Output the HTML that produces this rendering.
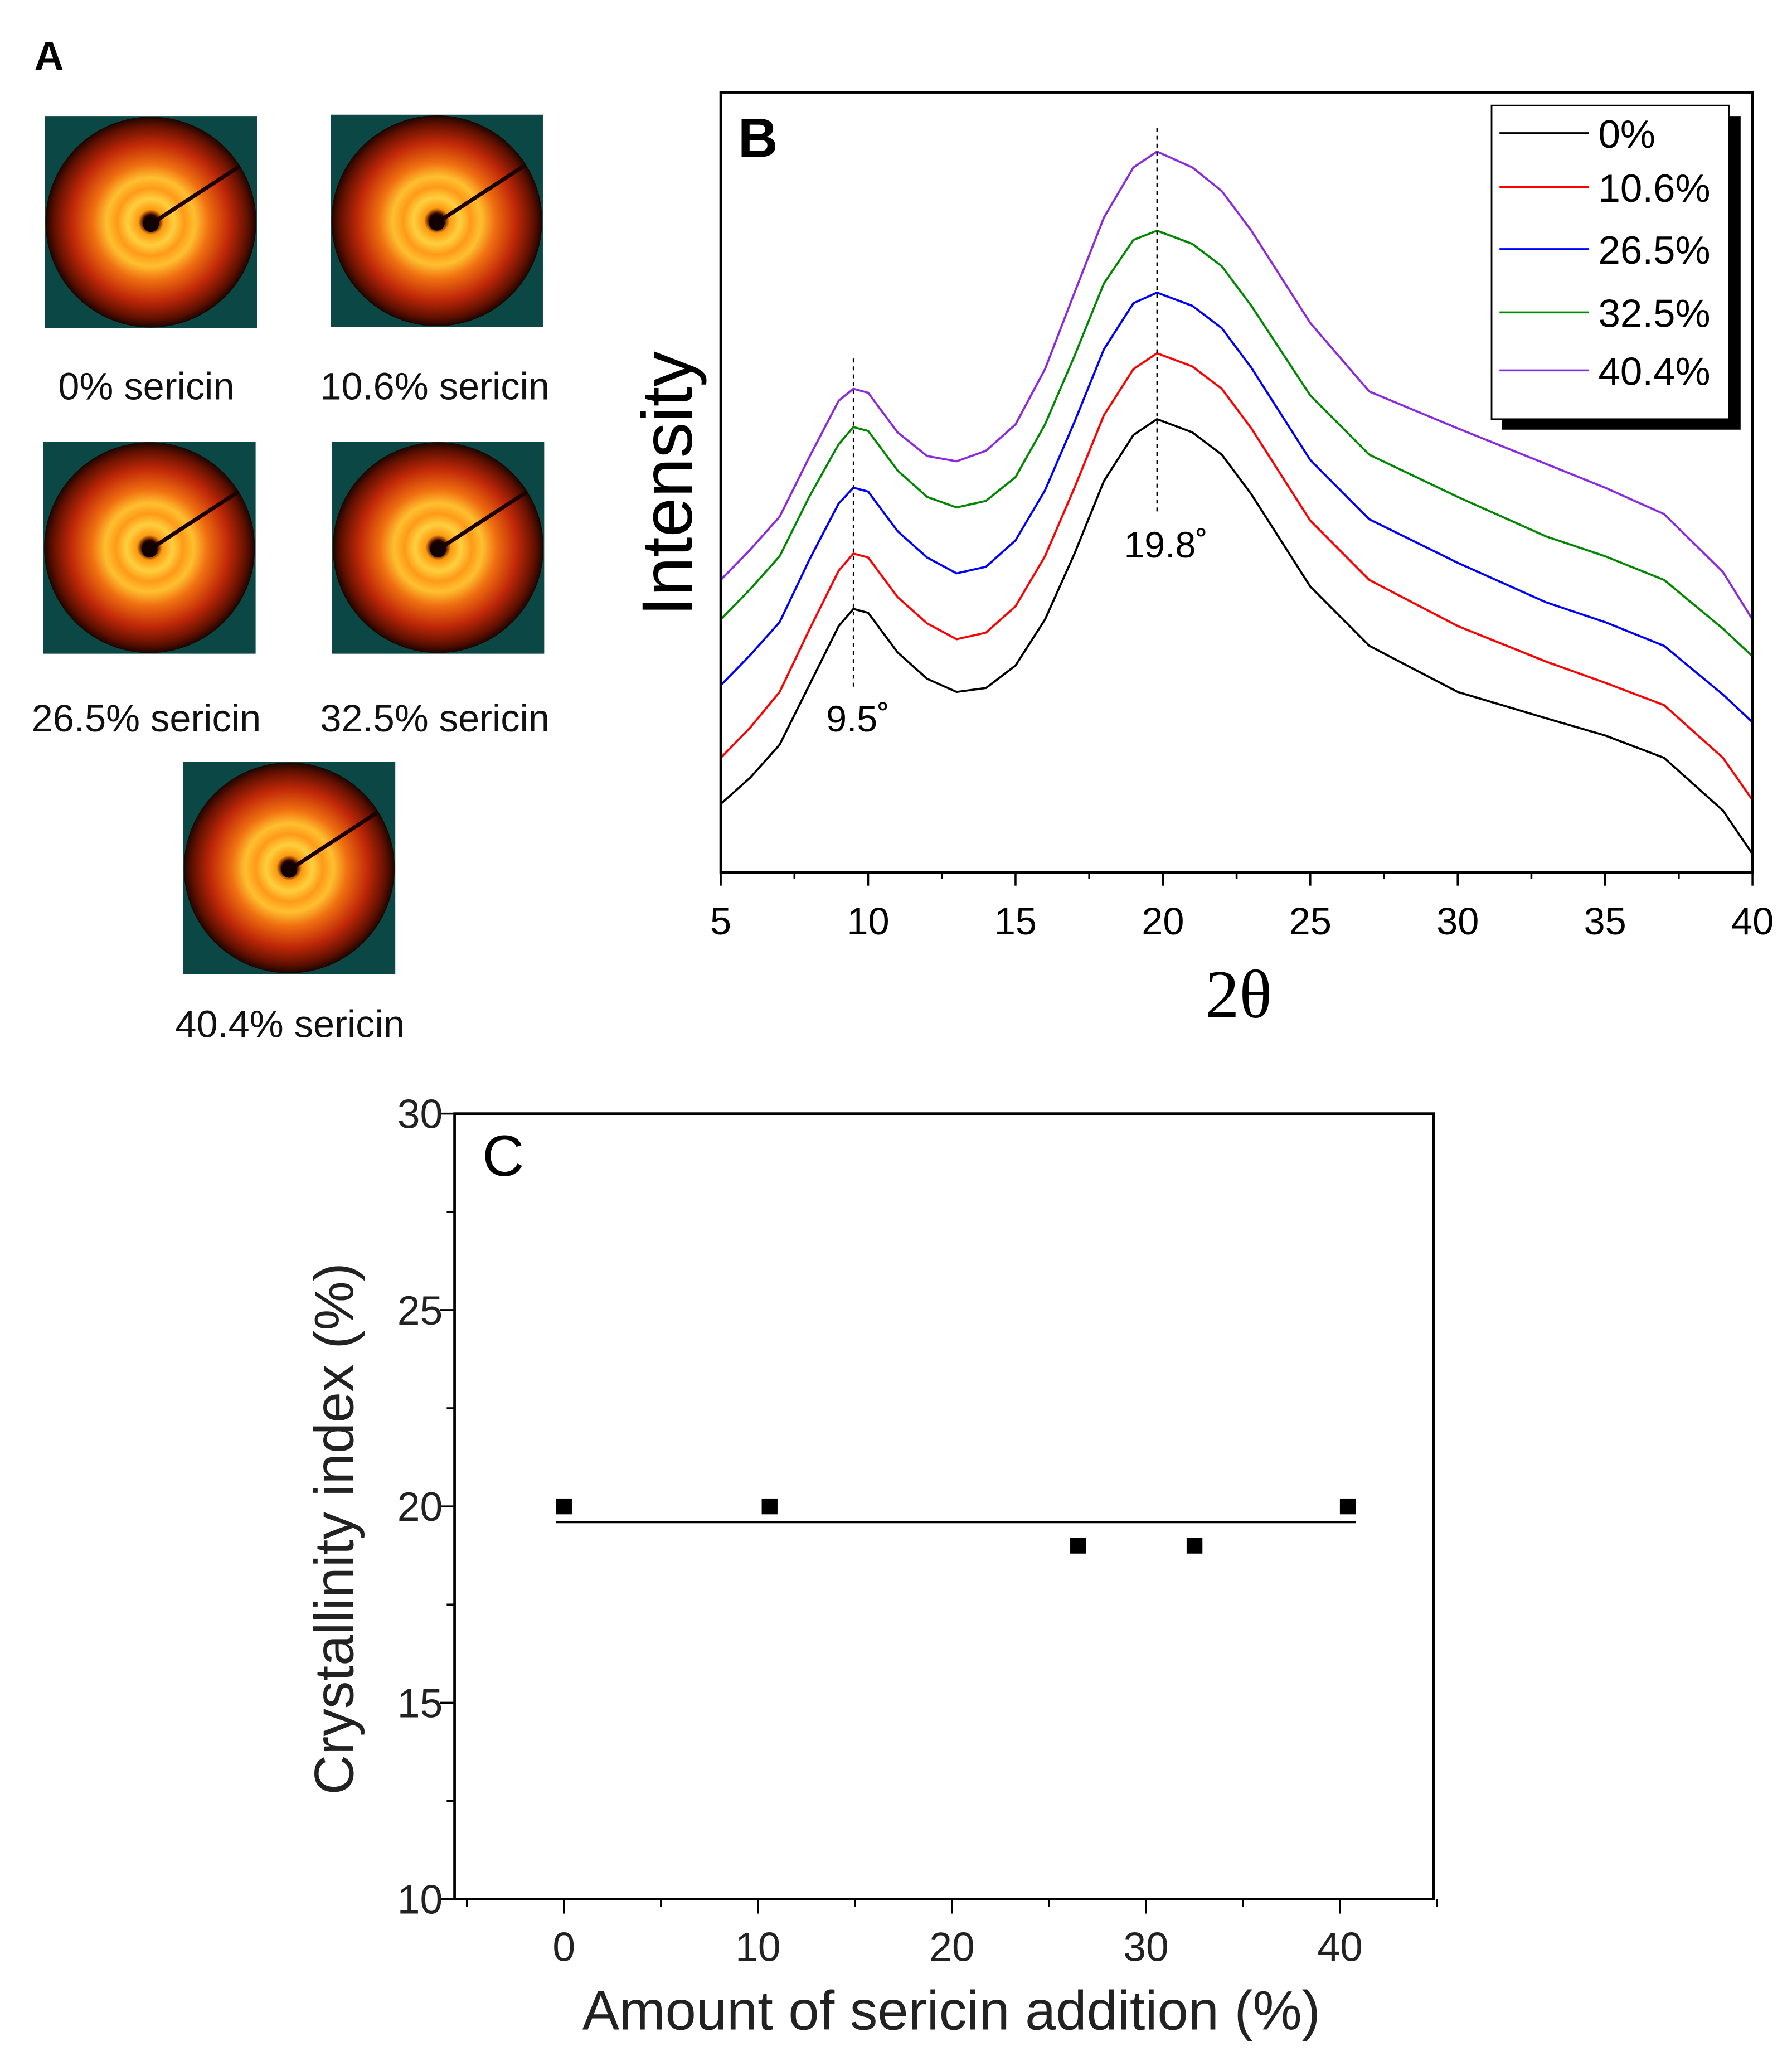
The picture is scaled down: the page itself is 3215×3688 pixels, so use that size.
<!DOCTYPE html>
<html><head><meta charset="utf-8"><style>
html,body{margin:0;padding:0;background:#fff;}
svg{display:block;font-family:"Liberation Sans",sans-serif;}
</style></head><body>
<svg id="fig" width="3215" height="3688" viewBox="0 0 1360 1560" xmlns="http://www.w3.org/2000/svg">
<defs>
<radialGradient id="xrd" cx="50%" cy="50%" r="50%">
<stop offset="0" stop-color="#200000"/><stop offset="0.07" stop-color="#300000"/>
<stop offset="0.12" stop-color="#ff9a10"/><stop offset="0.22" stop-color="#ffd040"/>
<stop offset="0.32" stop-color="#ff9a18"/><stop offset="0.42" stop-color="#ffc030"/>
<stop offset="0.55" stop-color="#f07010"/><stop offset="0.75" stop-color="#c02808"/>
<stop offset="0.92" stop-color="#601000"/><stop offset="1" stop-color="#1a0500"/>
</radialGradient>
</defs>
<text x="26" y="53" font-size="31" font-weight="bold">A</text>
<g id="panelA"></g>
<g id="panelB"></g>
<g id="panelC"></g>
</svg>
<script>
const NS="http://www.w3.org/2000/svg";
function mk(p,t,a,txt){const e=document.createElementNS(NS,t);for(const k in a)e.setAttribute(k,a[k]);if(txt!==undefined)e.textContent=txt;p.appendChild(e);return e;}
// Panel A
const imgLabels=["0% sericin","10.6% sericin","26.5% sericin","32.5% sericin","40.4% sericin"];
const imgPos=[[34,88,111],[251,87,330],[33,335,111],[252,335,330],[139,578,220]];
const labY=[303,303,555,555,787];
const A=document.getElementById('panelA');
imgLabels.forEach((l,i)=>{const [x,y,cx]=imgPos[i];
 const g=mk(A,'g',{});
 
 
 mk(g,'rect',{x:x,y:y,width:161,height:161,fill:'#0b4745'});
 mk(g,'circle',{cx:x+80.5,cy:y+80.5,r:80,fill:'url(#xrd)'});
 mk(g,'line',{x1:x+80.5,y1:y+82,x2:x+148,y2:y+38,stroke:'#1a0000','stroke-width':3});
 mk(g,'circle',{cx:x+80.5,cy:y+82,r:6,fill:'#100000'});
 const t=mk(A,'text',{x:cx,y:labY[i],'font-size':29,'text-anchor':'middle',fill:'#111'},l);
 
 
});
// Panel B
const twoTheta=[5,6,7,8,9,9.5,10,11,12,13,14,15,16,17,18,19,19.8,21,22,23,25,27,30,33,35,37,39,40];
const s0=[52,72,97,142,187,200,197,167,147,137,140,157,192,242,297,332,344,334,317,287,217,172,137,117,104,87,47,14];
const s106=[87,110,137,184,229,242,239,209,189,177,182,202,240,292,347,382,394,384,367,337,267,222,187,160,144,127,87,55];
const s265=[142,165,190,237,280,292,289,259,239,227,232,252,290,342,397,432,440,430,413,383,313,268,235,205,190,172,135,114];
const s325=[192,215,240,285,325,338,335,305,285,277,282,300,340,392,447,480,487,477,460,430,362,317,285,255,240,222,185,164];
const s404=[222,245,270,315,358,367,364,334,316,312,320,340,382,440,497,535,547,535,517,487,417,365,337,310,292,272,228,192];
const seriesNames=["0%","10.6%","26.5%","32.5%","40.4%"];
const seriesColors=["#000","#f00","#00f","#080","#8a2be2"];
const xTicksB=[5,10,15,20,25,30,35,40];
const B=document.getElementById('panelB');
const bx=v=>547+(v-5)/35*783, by=v=>662-v;
[s0,s106,s265,s325,s404].forEach((s,i)=>{
 const d=s.map((v,j)=>(j?'L':'M')+bx(twoTheta[j]).toFixed(1)+','+by(v).toFixed(1)).join('');
 const p=mk(B,'path',{d:d,fill:'none',stroke:seriesColors[i],'stroke-width':1.6,'stroke-linejoin':'round'});
 
 
});
mk(B,'rect',{x:547,y:70,width:783,height:592,fill:'none',stroke:'#000','stroke-width':2});
for(let v=5;v<=40;v+=2.5){mk(B,'line',{x1:bx(v),x2:bx(v),y1:662,y2:v%5===0?672:667,stroke:'#000','stroke-width':1.5});}
xTicksB.forEach(v=>{const t=mk(B,'text',{x:bx(v),y:709,'font-size':29,'text-anchor':'middle'},v);
 
 });
const xt=mk(B,'text',{x:940,y:772,'font-size':52,'text-anchor':'middle','font-family':'Liberation Serif, serif'},'2θ');

const yt=mk(B,'text',{x:0,y:0,'font-size':54,'text-anchor':'middle',transform:'translate(525,367) rotate(-90)'},'Intensity');

const bl=mk(B,'text',{x:560,y:119,'font-size':42,'font-weight':'bold'},'B');

mk(B,'line',{x1:bx(9.5),x2:bx(9.5),y1:272,y2:522,stroke:'#000','stroke-dasharray':'3,3'});
mk(B,'line',{x1:bx(19.8),x2:bx(19.8),y1:97,y2:390,stroke:'#000','stroke-dasharray':'3,3'});
mk(B,'text',{x:627,y:555,'font-size':28},'9.5˚');
mk(B,'text',{x:853,y:423,'font-size':28},'19.8˚');
const lg=mk(B,'g',{});
mk(lg,'rect',{x:1140,y:88,width:181,height:238,fill:'#000'});
mk(lg,'rect',{x:1132,y:80,width:180,height:238,fill:'#fff',stroke:'#000','stroke-width':1.2});
const legY=[101,142,189,237,281];
seriesNames.forEach((n,i)=>{
 mk(lg,'line',{x1:1138,x2:1206,y1:legY[i],y2:legY[i],stroke:seriesColors[i],'stroke-width':1.5});
 const t=mk(lg,'text',{x:1213,y:legY[i]+11,'font-size':30},n);
 
});
// Panel C
const sericin=[0,10.6,26.5,32.5,40.4];
const crystallinity=[20,20,19,19,20];
const fitValue=19.6;
const yTicksC=[10,15,20,25,30];
const xTicksC=[0,10,20,30,40];
const C=document.getElementById('panelC');
const cx=v=>428+v/40*589, cy=v=>1441-(v-10)/20*596;
mk(C,'rect',{x:345,y:845,width:743,height:596,fill:'none',stroke:'#000','stroke-width':2});
for(let v=10;v<=30;v+=2.5){mk(C,'line',{x1:345,x2:v%5===0?334:339,y1:cy(v),y2:cy(v),stroke:'#000','stroke-width':1.5});}
for(let v=-5;v<=45;v+=5){mk(C,'line',{x1:cx(v),x2:cx(v),y1:1441,y2:v%10===0?1452:1447,stroke:'#000','stroke-width':1.5});}
yTicksC.forEach(v=>{const t=mk(C,'text',{x:336,y:cy(v)+11,'font-size':31,'text-anchor':'end',fill:'#222'},v);
 });
xTicksC.forEach(v=>{const t=mk(C,'text',{x:cx(v),y:1488,'font-size':31,'text-anchor':'middle',fill:'#222'},v);
 });
const fl=mk(C,'line',{x1:cx(-0.4),x2:cx(40.8),y1:cy(fitValue),y2:cy(fitValue),stroke:'#000','stroke-width':1.6});

sericin.forEach((v,i)=>{const r=mk(C,'rect',{x:cx(v)-6,y:cy(crystallinity[i])-6,width:12,height:12,fill:'#000'});
 });
const cl=mk(C,'text',{x:366,y:892,'font-size':44},'C');

const cxt=mk(C,'text',{x:722,y:1540,'font-size':42,'text-anchor':'middle',fill:'#222'},'Amount of sericin addition (%)');

const cyt=mk(C,'text',{x:0,y:0,'font-size':42,'text-anchor':'middle',fill:'#222',transform:'translate(268,1160) rotate(-90)'},'Crystallinity index (%)');

</script>
</body></html>
